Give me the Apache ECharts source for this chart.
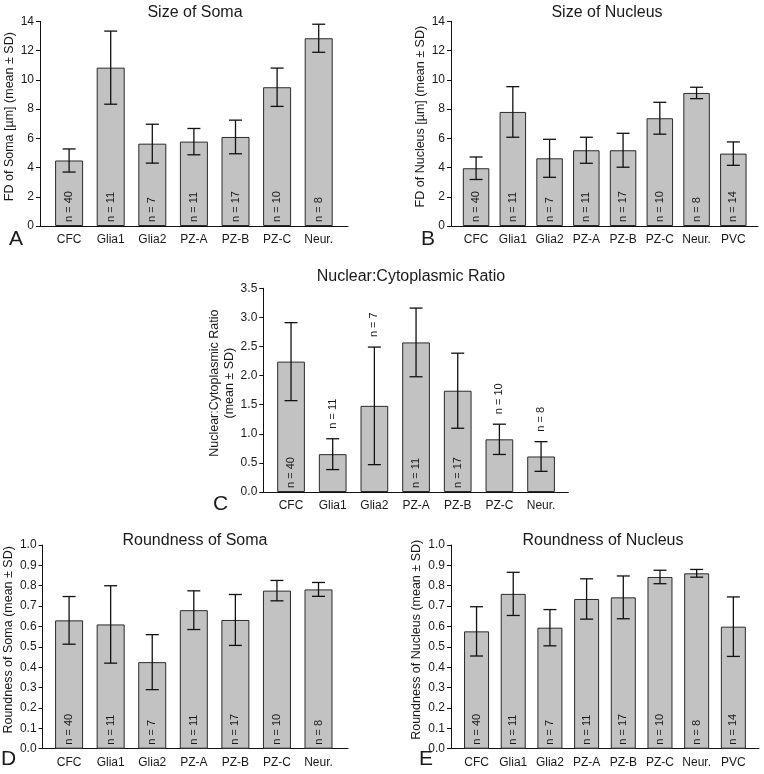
<!DOCTYPE html>
<html>
<head>
<meta charset="utf-8">
<script src="https://cdn.jsdelivr.net/npm/echarts@6/dist/echarts.min.js"></script>
<style>
html,body{margin:0;padding:0;background:#fff;}
#chart{width:764px;height:774px;}
</style>
</head>
<body>
<div id="chart"></div>
<script>
// ---------------- DATA ----------------
const categories7 = ['CFC', 'Glia1', 'Glia2', 'PZ-A', 'PZ-B', 'PZ-C', 'Neur.'];
const categories8 = ['CFC', 'Glia1', 'Glia2', 'PZ-A', 'PZ-B', 'PZ-C', 'Neur.', 'PVC'];

const somaSizeMean = [4.48, 10.83, 5.63, 5.77, 6.09, 9.49, 12.84];
const somaSizeSD   = [0.79, 2.50, 1.33, 0.90, 1.15, 1.31, 0.96];

const nucleusSizeMean = [3.95, 7.80, 4.63, 5.18, 5.18, 7.37, 9.10, 4.95];
const nucleusSizeSD   = [0.77, 1.73, 1.30, 0.89, 1.16, 1.09, 0.39, 0.80];

const ncRatioMean = [2.24, 0.65, 1.48, 2.57, 1.74, 0.905, 0.61];
const ncRatioSD   = [0.67, 0.265, 1.01, 0.59, 0.645, 0.26, 0.255];

const somaRoundMean = [0.630, 0.610, 0.425, 0.680, 0.632, 0.776, 0.782];
const somaRoundSD   = [0.117, 0.190, 0.135, 0.095, 0.125, 0.050, 0.034];

const nucRoundMean = [0.576, 0.760, 0.594, 0.735, 0.743, 0.843, 0.861, 0.599];
const nucRoundSD   = [0.121, 0.106, 0.089, 0.099, 0.105, 0.033, 0.019, 0.146];

const nSoma    = [40, 11, 7, 11, 17, 10, 8];
const nNucleus = [40, 11, 7, 11, 17, 10, 8, 14];

const panelTitles = ['Size of Soma', 'Size of Nucleus', 'Nuclear:Cytoplasmic Ratio', 'Roundness of Soma', 'Roundness of Nucleus'];
const panelLetters = ['A', 'B', 'C', 'D', 'E'];
const yNames = ['FD of Soma [µm] (mean ± SD)', 'FD of Nucleus [µm] (mean ± SD)', 'Nuclear:Cytoplasmic Ratio\n(mean ± SD)', 'Roundness of Soma (mean ± SD)', 'Roundness of Nucleus (mean ± SD)'];

// ---------------- LAYOUT ----------------
const FONT = 'Liberation Sans, Arial, Helvetica, sans-serif';
const TXT = '#1a1a1a';
const panels = [
  { cats: categories7, mean: somaSizeMean, sd: somaSizeSD, n: nSoma, max: 14, interval: 2, dec: 0,
    frame: { left: 40, top: 21.3, width: 308, height: 204.7 }, data: { left: 48.3, width: 291.2 }, barWidth: 28,
    title: { x: 195, y: 5 }, letter: { x: 9, y: 229 }, nameGap: 17 },
  { cats: categories8, mean: nucleusSizeMean, sd: nucleusSizeSD, n: nNucleus, max: 14, interval: 2, dec: 0,
    frame: { left: 451, top: 21.3, width: 307, height: 204.7 }, data: { left: 457.7, width: 294 }, barWidth: 26.5,
    title: { x: 607, y: 5 }, letter: { x: 421, y: 229 }, nameGap: 18 },
  { cats: categories7, mean: ncRatioMean, sd: ncRatioSD, n: nSoma, max: 3.5, interval: 0.5, dec: 1,
    frame: { left: 263.3, top: 288.3, width: 305, height: 203.7 }, data: { left: 270.2, width: 291.7 }, barWidth: 27.7,
    title: { x: 411, y: 269 }, letter: { x: 213, y: 494 }, nameGap: 22 },
  { cats: categories7, mean: somaRoundMean, sd: somaRoundSD, n: nSoma, max: 1.0, interval: 0.1, dec: 1,
    frame: { left: 40, top: 545, width: 308, height: 203.7 }, data: { left: 48.3, width: 291 }, barWidth: 28,
    title: { x: 195, y: 533 }, letter: { x: 1, y: 749 }, nameGap: 17 },
  { cats: categories8, mean: nucRoundMean, sd: nucRoundSD, n: nNucleus, max: 1.0, interval: 0.1, dec: 1,
    frame: { left: 451, top: 545, width: 308, height: 203.7 }, data: { left: 458.2, width: 293.5 }, barWidth: 25,
    title: { x: 603, y: 533 }, letter: { x: 419, y: 749 }, nameGap: 18 }
];

const grid = [], xAxis = [], yAxis = [], series = [], title = [];

panels.forEach((p, k) => {
  const fg = grid.length;
  grid.push({ left: p.frame.left, top: p.frame.top, width: p.frame.width, height: p.frame.height, containLabel: false });
  const dg = grid.length;
  grid.push({ left: p.data.left, top: p.frame.top, width: p.data.width, height: p.frame.height, containLabel: false });

  // frame axes
  xAxis.push({ gridIndex: fg, type: 'value', min: 0, max: 1,
    axisLine: { show: true, lineStyle: { color: '#111', width: 1 } },
    axisTick: { show: false }, axisLabel: { show: false }, splitLine: { show: false } });
  yAxis.push({ gridIndex: fg, type: 'value', min: 0, max: p.max, interval: p.interval,
    axisLine: { show: true, lineStyle: { color: '#111', width: 1 } },
    axisTick: { show: true, length: 4, lineStyle: { color: '#111' } },
    axisLabel: { show: true, margin: 6, fontSize: 12, color: TXT, fontFamily: FONT,
      formatter: v => v.toFixed(p.dec) },
    splitLine: { show: false },
    name: yNames[k], nameLocation: 'middle', nameGap: p.nameGap,
    nameTextStyle: { fontSize: 12.5, color: TXT, fontFamily: FONT, lineHeight: 15, padding: [0, 0, 0, 14] } });

  // data axes
  const dx = xAxis.length;
  xAxis.push({ gridIndex: dg, type: 'category', data: p.cats,
    axisLine: { show: false }, axisTick: { show: false },
    axisLabel: { show: true, margin: 8, fontSize: 12, color: TXT, fontFamily: FONT, interval: 0 } });
  const dy = yAxis.length;
  yAxis.push({ gridIndex: dg, type: 'value', min: 0, max: p.max, show: false, splitLine: { show: false } });

  series.push({ type: 'bar', xAxisIndex: dx, yAxisIndex: dy, data: p.mean,
    barWidth: p.barWidth, silent: true,
    itemStyle: { color: '#c2c2c2', borderColor: '#2a2a2a', borderWidth: 1 } });

  const errData = p.mean.map((m, i) => [i, m, p.sd[i], p.n[i]]);
  series.push({ type: 'custom', xAxisIndex: dx, yAxisIndex: dy, data: errData, silent: true,
    encode: { x: 0, y: 1 }, clip: false, z: 5,
    renderItem: function (params, api) {
      const i = api.value(0), m = api.value(1), s = api.value(2), n = api.value(3);
      const top = api.coord([i, m + s]);
      const low = api.coord([i, m - s]);
      const base = api.coord([i, 0]);
      const cap = 6.5;
      const ls = { stroke: '#111', lineWidth: 1.3 };
      const txt = 'n = ' + n;
      const fs = 11;
      const len = txt.length * fs * 0.55;
      let tx = base[0], ty;
      if (base[1] - low[1] >= len + 8) ty = base[1] - 4;
      else ty = top[1] - 10;
      return { type: 'group', children: [
        { type: 'line', shape: { x1: top[0], y1: top[1], x2: low[0], y2: low[1] }, style: ls },
        { type: 'line', shape: { x1: top[0] - cap, y1: top[1], x2: top[0] + cap, y2: top[1] }, style: ls },
        { type: 'line', shape: { x1: low[0] - cap, y1: low[1], x2: low[0] + cap, y2: low[1] }, style: ls },
        { type: 'text', x: tx, y: ty, rotation: Math.PI / 2,
          style: { text: txt, fontSize: fs, fontFamily: FONT, fill: TXT, align: 'left', verticalAlign: 'middle' } }
      ] };
    } });

  title.push({ text: panelTitles[k], left: p.title.x, top: p.title.y, textAlign: 'center', padding: 0,
    textStyle: { fontSize: 16, fontWeight: 'normal', color: TXT, fontFamily: FONT } });
  title.push({ text: panelLetters[k], left: p.letter.x, top: p.letter.y, padding: 0,
    textStyle: { fontSize: 21, fontWeight: 'normal', color: TXT, fontFamily: FONT } });
});

const chart = echarts.init(document.getElementById('chart'), null, { renderer: 'canvas' });
chart.setOption({ backgroundColor: '#fff', animation: false, title, grid, xAxis, yAxis, series });
</script>
</body>
</html>
